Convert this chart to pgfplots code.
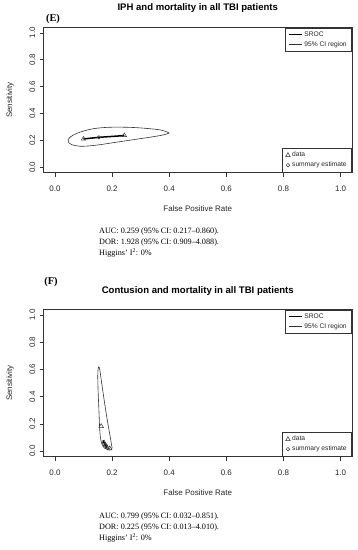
\documentclass[border=0pt]{standalone}
\usepackage{pgfplots}
\pgfplotsset{compat=1.18}
\usepackage{fontspec}
\setmainfont{Liberation Serif}
\setsansfont{Liberation Sans}
\definecolor{rline}{gray}{0.2}
\pgfplotsset{
  rbase/.style={
    scale only axis, width=308.5bp, anchor=south west,
    xmin=-0.04, xmax=1.04, ymin=-0.04, ymax=1.04,
  },
  rplot/.style={
    rbase,
    axis line style={rline, line width=0.6bp},
    xtick={0,0.2,0.4,0.6,0.8,1},
    ytick={0,0.2,0.4,0.6,0.8,1},
    xticklabels={0.0,0.2,0.4,0.6,0.8,1.0},
    yticklabels={0.0,0.2,0.4,0.6,0.8,1.0},
    xtick pos=bottom, ytick pos=left,
    tick align=outside, major tick length=4bp,
    tick style={rline, line width=0.6bp},
    ticklabel style={font=\sffamily\fontsize{8}{9}\selectfont, text=black!85},
    xticklabel style={anchor=center, yshift=-12bp},
    yticklabel style={rotate=90, anchor=center},
    yticklabel shift=7bp,
    xlabel={False Positive Rate}, ylabel={Sensitivity},
    label style={font=\sffamily\fontsize{8}{9}\selectfont, text=black!85},
    xlabel style={at={([yshift=-36bp]axis description cs:0.5,0)}, anchor=center},
    ylabel style={at={([xshift=-33.5bp]axis description cs:0,0.5)}, anchor=center},
    title style={font=\sffamily\bfseries\fontsize{9.6}{11}\selectfont, anchor=center},
    legend style={at={(rel axis cs:1,1)}, anchor=north east, draw=rline, line width=0.6bp,
      font=\sffamily\fontsize{6.7}{7.6}\selectfont, text=black!85,
      inner xsep=3bp, inner ysep=1.8bp, row sep=-0.3bp,
      cells={anchor=west}},
    legend image code/.code={\draw[#1] (0bp,0bp) -- (13bp,0bp);},
  },
  rleg/.style={
    rbase, hide axis,
    legend style={at={(rel axis cs:1,0)}, anchor=south east, draw=rline, line width=0.6bp,
      font=\sffamily\fontsize{6.7}{7.6}\selectfont, text=black!85,
      inner xsep=3bp, inner ysep=1.8bp, row sep=-0.3bp,
      cells={anchor=west}},
    legend image code/.code={\draw[#1] plot coordinates {(5bp,0bp)};},
  },
  sroc/.style={black, line width=1.5bp},
  ci/.style={rline, line width=0.6bp},
  datam/.style={only marks, mark=triangle, mark size=2.6bp, mark options={rline, line width=0.5bp, fill=none}},
  summ/.style={only marks, mark=o, mark size=1.8bp, mark options={rline, line width=0.5bp}},
}
\begin{document}
\begin{tikzpicture}
\useasboundingbox (0,0) rectangle (358bp,-550bp);
% ---------------- Panel E ----------------
\begin{axis}[rplot, at={(43.5bp,-172.5bp)}, height=145bp,
  title={IPH and mortality in all TBI patients},
  title style={at={([yshift=13.5bp]axis description cs:0.5,1)}}]
\addplot[ci, smooth, tension=0.55, forget plot] coordinates {
(0.400,0.254)(0.385,0.268)(0.36,0.280)(0.30,0.292)(0.25,0.297)(0.19,0.297)
(0.14,0.288)(0.105,0.272)(0.075,0.250)(0.055,0.226)(0.046,0.203)(0.048,0.184)
(0.060,0.167)(0.085,0.156)(0.12,0.158)(0.16,0.168)(0.21,0.184)(0.27,0.203)
(0.33,0.222)(0.38,0.240)(0.400,0.254)};
\addplot[sroc, forget plot] coordinates {(0.100,0.210)(0.154,0.222)(0.243,0.235)};
\addplot[datam, forget plot] coordinates {(0.100,0.210)(0.243,0.236)};
\addplot[summ, forget plot] coordinates {(0.154,0.222)};
\addlegendimage{sroc}\addlegendentry{SROC}
\addlegendimage{ci}\addlegendentry{95\% CI region}
\end{axis}
\begin{axis}[rleg, at={(43.5bp,-172.5bp)}, height=145bp]
\addlegendimage{datam}\addlegendentry{data}
\addlegendimage{summ}\addlegendentry{summary estimate}
\end{axis}
\node[font=\bfseries\fontsize{10.5}{12}\selectfont] at (53bp,-19bp) {(E)};
\node[anchor=north west, align=left, font=\fontsize{8.2}{11}\selectfont, inner sep=0pt]
  at (99bp,-228bp) {AUC: 0.259 (95\% CI: 0.217--0.860).\\
DOR: 1.928 (95\% CI: 0.909--4.088).\\
Higgins' I\textsuperscript{2}: 0\%};
% ---------------- Panel F ----------------
\begin{axis}[rplot, at={(43.5bp,-456.5bp)}, height=147bp,
  title={Contusion and mortality in all TBI patients},
  title style={at={([yshift=12.5bp]axis description cs:0.5,1)}}]
\addplot[ci, smooth, tension=0.55, forget plot] coordinates {
(0.153,0.620)(0.151,0.600)(0.150,0.55)(0.151,0.45)(0.153,0.35)(0.155,0.25)
(0.157,0.15)(0.160,0.09)(0.165,0.05)(0.172,0.025)(0.182,0.012)(0.192,0.008)
(0.198,0.012)(0.200,0.025)(0.198,0.05)(0.194,0.10)(0.188,0.17)(0.180,0.27)
(0.172,0.38)(0.165,0.48)(0.159,0.57)(0.156,0.61)(0.153,0.620)};
\addplot[sroc, forget plot] coordinates {(0.168,0.078)(0.176,0.045)(0.183,0.025)};
\addplot[datam, forget plot] coordinates {(0.162,0.182)(0.172,0.062)(0.176,0.045)(0.183,0.027)(0.192,0.018)};
\addplot[summ, forget plot] coordinates {(0.178,0.040)};
\addlegendimage{sroc}\addlegendentry{SROC}
\addlegendimage{ci}\addlegendentry{95\% CI region}
\end{axis}
\begin{axis}[rleg, at={(43.5bp,-456.5bp)}, height=147bp]
\addlegendimage{datam}\addlegendentry{data}
\addlegendimage{summ}\addlegendentry{summary estimate}
\end{axis}
\node[font=\bfseries\fontsize{10.5}{12}\selectfont] at (51bp,-282bp) {(F)};
\node[anchor=north west, align=left, font=\fontsize{8.2}{11}\selectfont, inner sep=0pt]
  at (99bp,-513bp) {AUC: 0.799 (95\% CI: 0.032--0.851).\\
DOR: 0.225 (95\% CI: 0.013--4.010).\\
Higgins' I\textsuperscript{2}: 0\%};
\end{tikzpicture}
\end{document}
